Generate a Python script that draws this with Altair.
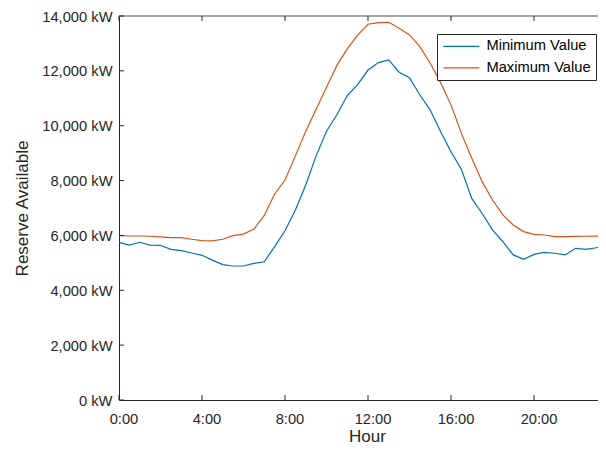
import altair as alt
import pandas as pd

# ---- data ----
hours = [i * 0.5 for i in range(48)]  # 0:00 ... 23:30, half-hour steps
min_values = [5750, 5650, 5750, 5650, 5640, 5490, 5445, 5360, 5275, 5100,
              4935, 4885, 4885, 4980, 5040, 5590, 6170, 6930, 7840, 8900,
              9800, 10400, 11100, 11500, 12030, 12300, 12400, 11950, 11750, 11120,
              10570, 9780, 9050, 8410, 7350, 6800, 6200, 5770, 5290, 5130,
              5310, 5380, 5350, 5290, 5530, 5490, 5550, 5690]
max_values = [5990, 5980, 5980, 5970, 5945, 5920, 5920, 5860, 5810, 5800,
              5860, 5990, 6050, 6230, 6730, 7510, 8020, 8900, 9800, 10600,
              11400, 12200, 12800, 13300, 13700, 13760, 13770, 13550, 13310, 12880,
              12280, 11570, 10760, 9720, 8810, 7960, 7290, 6750, 6380, 6140,
              6040, 6015, 5955, 5960, 5965, 5970, 5975, 5975]
series_names = ["Minimum Value", "Maximum Value"]
series_colors = ["#0072BD", "#D95319"]
x_ticks = [0, 4, 8, 12, 16, 20]
y_ticks = [0, 2000, 4000, 6000, 8000, 10000, 12000, 14000]

W, H = 479, 384
X_MAX = W / 20.75  # the reference's axis runs past the window edge
FONT = "Liberation Sans"
AX = "#262626"
LFS = 14.7
TFS = 17

df = pd.DataFrame({
    "hour": hours * 2,
    "value": min_values + max_values,
    "series": [series_names[0]] * len(hours) + [series_names[1]] * len(hours),
})
xt = pd.DataFrame({"hour": x_ticks})
yt = pd.DataFrame({"value": y_ticks})

xscale = alt.Scale(domain=[0, X_MAX], nice=False, zero=False)
yscale = alt.Scale(domain=[0, 14000], nice=False)

lines = alt.Chart(df).mark_line(strokeWidth=1.2, clip=True).encode(
    x=alt.X("hour:Q", scale=xscale,
            axis=alt.Axis(values=x_ticks, labelExpr="datum.value + ':00'",
                          title="Hour", ticks=False, grid=False,
                          labelFlush=False, labelOverlap=False,
                          labelFont=FONT, labelFontSize=LFS, labelColor=AX,
                          titleFont=FONT, titleFontSize=TFS, titleColor=AX,
                          titleFontWeight="normal",
                          domainColor=AX, domainWidth=1,
                          labelPadding=11, labelOffset=4.5,
                          titleX=248, titleY=41, titleBaseline="alphabetic",
                          titleAlign="center")),
    y=alt.Y("value:Q", scale=yscale,
            axis=alt.Axis(values=y_ticks,
                          labelExpr="format(datum.value, ',') + ' kW'",
                          title="Reserve Available", ticks=False, grid=False,
                          labelFlush=False, labelOverlap=False,
                          labelFont=FONT, labelFontSize=LFS, labelColor=AX,
                          titleFont=FONT, titleFontSize=TFS, titleColor=AX,
                          titleFontWeight="normal",
                          domainColor=AX, domainWidth=1,
                          labelPadding=7, labelOffset=1,
                          titleX=-97, titleY=H / 2, titleAngle=-90,
                          titleBaseline="middle", titleAlign="center")),
    color=alt.Color("series:N",
                    scale=alt.Scale(domain=series_names, range=series_colors),
                    sort=series_names,
                    legend=alt.Legend(title=None, orient="none",
                                      legendX=318, legendY=18,
                                      symbolType="M-1,0H5", symbolSize=144,
                                      symbolStrokeWidth=1.2,
                                      labelOffset=29.7, padding=5,
                                      rowPadding=5.5,
                                      strokeColor=AX, fillColor="white",
                                      labelFont=FONT, labelFontSize=LFS,
                                      labelColor="black")),
)

tick_y = alt.Chart(yt).mark_rule(color=AX, strokeWidth=1).encode(
    y=alt.Y("value:Q", scale=yscale),
    x=alt.value(0), x2=alt.value(5),
)
tick_xb = alt.Chart(xt).mark_rule(color=AX, strokeWidth=1).encode(
    x=alt.X("hour:Q", scale=xscale),
    y=alt.value(H), y2=alt.value(H - 5),
)
tick_xt = alt.Chart(xt).mark_rule(color=AX, strokeWidth=1).encode(
    x=alt.X("hour:Q", scale=xscale),
    y=alt.value(0), y2=alt.value(5),
)
top_border = alt.Chart(xt).mark_rule(color="#a6a6a6", strokeWidth=1.5).encode(
    x=alt.value(0), x2=alt.value(W), y=alt.value(0),
)

chart = alt.layer(lines, top_border, tick_y, tick_xb, tick_xt).properties(
    width=W, height=H,
    autosize=alt.AutoSizeParams(type="none"),
    padding={"left": 111, "top": 8, "right": 0, "bottom": 44},
).configure_view(stroke=None)

chart.save("out.html", embed_options={"renderer": "svg", "actions": False})
